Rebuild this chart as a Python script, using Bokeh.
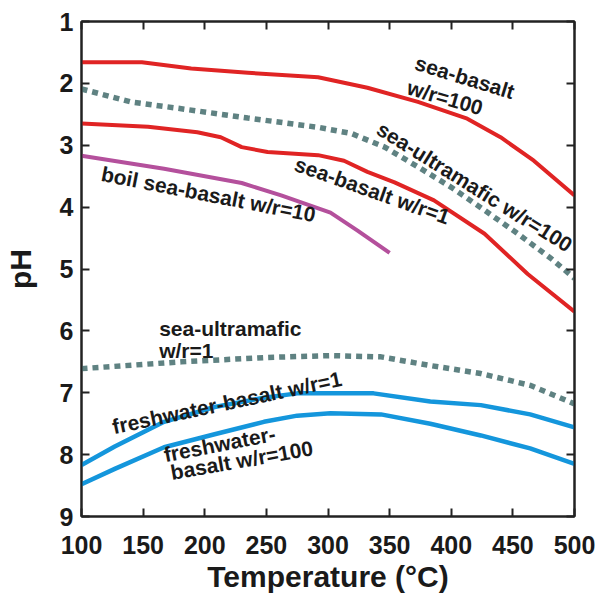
import math
from bokeh.plotting import figure
from bokeh.models import Range1d, LinearAxis, FixedTicker, CustomJSTickFormatter
from bokeh.core.properties import value
from bokeh.embed import file_html
from bokeh.resources import INLINE

# ---- data ----
sb100_T = [100, 149, 189, 235, 292, 332, 373, 413, 440, 467, 500]
sb100_pH = [1.66, 1.66, 1.76, 1.83, 1.90, 2.07, 2.30, 2.57, 2.87, 3.25, 3.81]

su100_T = [100, 140, 181, 235, 292, 319, 346, 373, 400, 427, 454, 481, 500]
su100_pH = [2.09, 2.30, 2.41, 2.56, 2.71, 2.81, 3.03, 3.35, 3.68, 4.05, 4.43, 4.83, 5.15]

sb1_T = [100, 154, 194, 213, 230, 251, 292, 313, 332, 354, 386, 427, 462, 500]
sb1_pH = [2.65, 2.70, 2.79, 2.87, 3.03, 3.11, 3.16, 3.25, 3.43, 3.60, 3.89, 4.43, 5.08, 5.69]

boil_T = [100, 167, 230, 262, 302, 324, 350]
boil_pH = [3.17, 3.38, 3.61, 3.81, 4.09, 4.38, 4.74]

su1_T = [100, 181, 250, 302, 343, 383, 424, 464, 500]
su1_pH = [6.61, 6.50, 6.43, 6.40, 6.42, 6.56, 6.69, 6.88, 7.18]

fb1_T = [100, 127, 167, 208, 248, 275, 302, 337, 383, 424, 464, 500]
fb1_pH = [8.17, 7.87, 7.47, 7.23, 7.08, 7.01, 7.01, 7.01, 7.14, 7.20, 7.35, 7.56]

fb100_T = [100, 127, 167, 208, 248, 275, 302, 343, 383, 424, 464, 500]
fb100_pH = [8.48, 8.23, 7.88, 7.67, 7.47, 7.37, 7.33, 7.35, 7.50, 7.69, 7.90, 8.15]

x_ticks = [100, 150, 200, 250, 300, 350, 400, 450, 500]
y_ticks = [1, 2, 3, 4, 5, 6, 7, 8, 9]

label_texts = ["sea-basalt", "w/r=100", "sea-ultramafic w/r=100", "sea-basalt w/r=1",
               "boil sea-basalt w/r=10", "freshwater-basalt w/r=1", "freshwater-", "basalt w/r=100"]
label_T = [411, 395, 419, 336, 203, 218, 212, 230]
label_pH = [1.90, 2.23, 3.67, 3.73, 3.79, 7.16, 7.83, 8.09]
label_deg = [-17, -16, -32, -19.5, -11, 12, 11, 10]

left_texts = ["sea-ultramafic", "w/r=1"]
left_T = [163, 163]
left_pH = [5.96, 6.31]

RED = "#e02424"
TEAL = "#5f8282"
PURPLE = "#b4509c"
BLUE = "#1496dc"
INK = "#1a1a1a"
FONT = "Liberation Sans"

p = figure(width=595, height=596, output_backend="svg", toolbar_location=None,
           x_range=Range1d(100, 500), y_range=Range1d(9, 1),
           min_border_left=80, min_border_right=21, min_border_top=21, min_border_bottom=80)
p.grid.visible = False
p.background_fill_color = "white"
p.border_fill_color = "white"
p.outline_line_color = "#222222"
p.outline_line_width = 2

for ax in (p.xaxis[0], p.yaxis[0]):
    ax.major_tick_in = 8
    ax.major_tick_out = 0
    ax.minor_tick_in = 0
    ax.minor_tick_out = 0
    ax.axis_line_width = 2
    ax.axis_line_color = "#222222"
    ax.major_tick_line_width = 2
    ax.major_tick_line_color = "#222222"
    ax.major_label_text_font = FONT
    ax.major_label_text_font_style = "bold"
    ax.major_label_text_font_size = "25px"
    ax.major_label_text_color = INK
    ax.axis_label_text_font = FONT
    ax.axis_label_text_font_style = "bold"
    ax.axis_label_text_font_size = "30px"
    ax.axis_label_text_color = INK

p.xaxis[0].ticker = FixedTicker(ticks=x_ticks)
p.yaxis[0].ticker = FixedTicker(ticks=y_ticks)
p.xaxis[0].axis_label = "Temperature (°C)"
p.yaxis[0].axis_label = "pH"
p.xaxis[0].major_label_standoff = 19
p.xaxis[0].axis_label_standoff = 3
p.yaxis[0].major_label_standoff = 8
p.yaxis[0].axis_label_standoff = 20

blank = CustomJSTickFormatter(code="return ''")
top = LinearAxis(ticker=FixedTicker(ticks=x_ticks), formatter=blank,
                 major_tick_in=8, major_tick_out=0, minor_tick_in=0, minor_tick_out=0,
                 axis_line_width=2, axis_line_color="#222222",
                 major_tick_line_width=2, major_tick_line_color="#222222",
                 major_label_standoff=0)
right = LinearAxis(ticker=FixedTicker(ticks=y_ticks), formatter=blank,
                   major_tick_in=8, major_tick_out=0, minor_tick_in=0, minor_tick_out=0,
                   axis_line_width=2, axis_line_color="#222222",
                   major_tick_line_width=2, major_tick_line_color="#222222",
                   major_label_standoff=0)
p.add_layout(top, "above")
p.add_layout(right, "right")

p.line(sb100_T, sb100_pH, line_color=RED, line_width=4, line_join="round")
p.line(sb1_T, sb1_pH, line_color=RED, line_width=4, line_join="round")
p.line(su100_T, su100_pH, line_color=TEAL, line_width=5.5, line_dash="6 5")
p.line(boil_T, boil_pH, line_color=PURPLE, line_width=4, line_join="round")
p.line(su1_T, su1_pH, line_color=TEAL, line_width=5.5, line_dash="6 5")
p.line(fb1_T, fb1_pH, line_color=BLUE, line_width=4.5, line_join="round")
p.line(fb100_T, fb100_pH, line_color=BLUE, line_width=4.5, line_join="round")

p.text(x=label_T, y=label_pH, text=label_texts, angle=[math.radians(a) for a in label_deg],
       text_align="center", text_baseline="middle", text_font=value(FONT),
       text_font_style="bold", text_font_size="21px", text_color=INK)
p.text(x=left_T, y=left_pH, text=left_texts, text_align="left", text_baseline="middle",
       text_font=value(FONT), text_font_style="bold", text_font_size="21px", text_color=INK)

open("out.html", "w").write(file_html(p, INLINE))
